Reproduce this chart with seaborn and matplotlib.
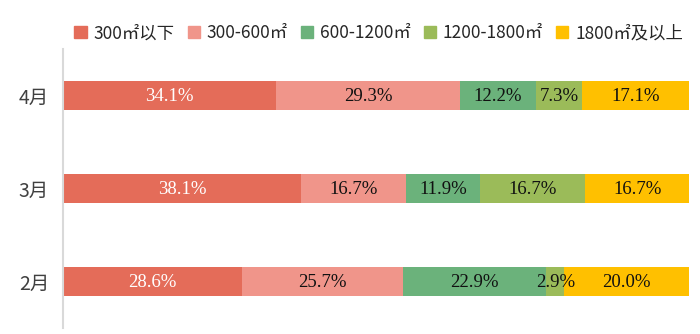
import matplotlib
matplotlib.use("Agg")
import matplotlib.pyplot as plt
import matplotlib.patches as mpatches
import seaborn as sns
import pandas as pd
import numpy as np

months = ["4月", "3月", "2月"]
series = ["300㎡以下", "300-600㎡", "600-1200㎡", "1200-1800㎡", "1800㎡及以上"]
v_300 = [34.1, 38.1, 28.6]
v_300_600 = [29.3, 16.7, 25.7]
v_600_1200 = [12.2, 11.9, 22.9]
v_1200_1800 = [7.3, 16.7, 2.9]
v_1800 = [17.1, 16.7, 20.0]
colors = ["#E46C59", "#F0958A", "#6BB27B", "#9BBB59", "#FFC000"]

sns.set_theme(style="white")
plt.rcParams["font.family"] = ["Noto Sans CJK SC", "DejaVu Sans"]

values = [v_300, v_300_600, v_600_1200, v_1200_1800, v_1800]
df = pd.DataFrame({"month": months})
for name, vals in zip(series, values):
    df[name] = vals
cum = df[series].cumsum(axis=1)

fig = plt.figure(figsize=(7.0, 3.34), dpi=100)
ax = fig.add_axes([0.09, 0.018, 0.894, 0.835])

# stacked bars: draw cumulative totals from the outermost segment inward
for i in range(len(series) - 1, -1, -1):
    sns.barplot(x=cum[series[i]], y=df["month"], order=months, orient="h",
                color=colors[i], saturation=1, width=0.31, ax=ax,
                linewidth=0, edgecolor="none")

# segment labels
for r, m in enumerate(months):
    left = 0.0
    for i, name in enumerate(series):
        v = df.loc[r, name]
        ax.text(left + v / 2, r + 0.01, f"{v:.1f}%", ha="center", va="center",
                fontsize=13.5, family="Liberation Serif",
                color="white" if i == 0 else "#111111")
        left += v

ax.set_xlim(0, 100)
ax.set_ylim(2.5, -0.5)
ax.set_xlabel("")
ax.set_ylabel("")
ax.set_xticks([])
for s in ["top", "right", "bottom"]:
    ax.spines[s].set_visible(False)
ax.spines["left"].set_color("#D9D9D9")
ax.spines["left"].set_linewidth(1.5)
ax.tick_params(axis="y", length=0, pad=10, labelsize=14, labelcolor="#404040")

handles = [mpatches.Patch(color=c, label=n) for c, n in zip(colors, series)]
fig.legend(handles=handles, loc="center", bbox_to_anchor=(0.541, 0.90), ncol=5,
           frameon=False, fontsize=12.5, handlelength=0.7, handleheight=0.7,
           handletextpad=0.4, columnspacing=0.75, labelcolor="#262626")

fig.savefig("out.png", dpi=100)
